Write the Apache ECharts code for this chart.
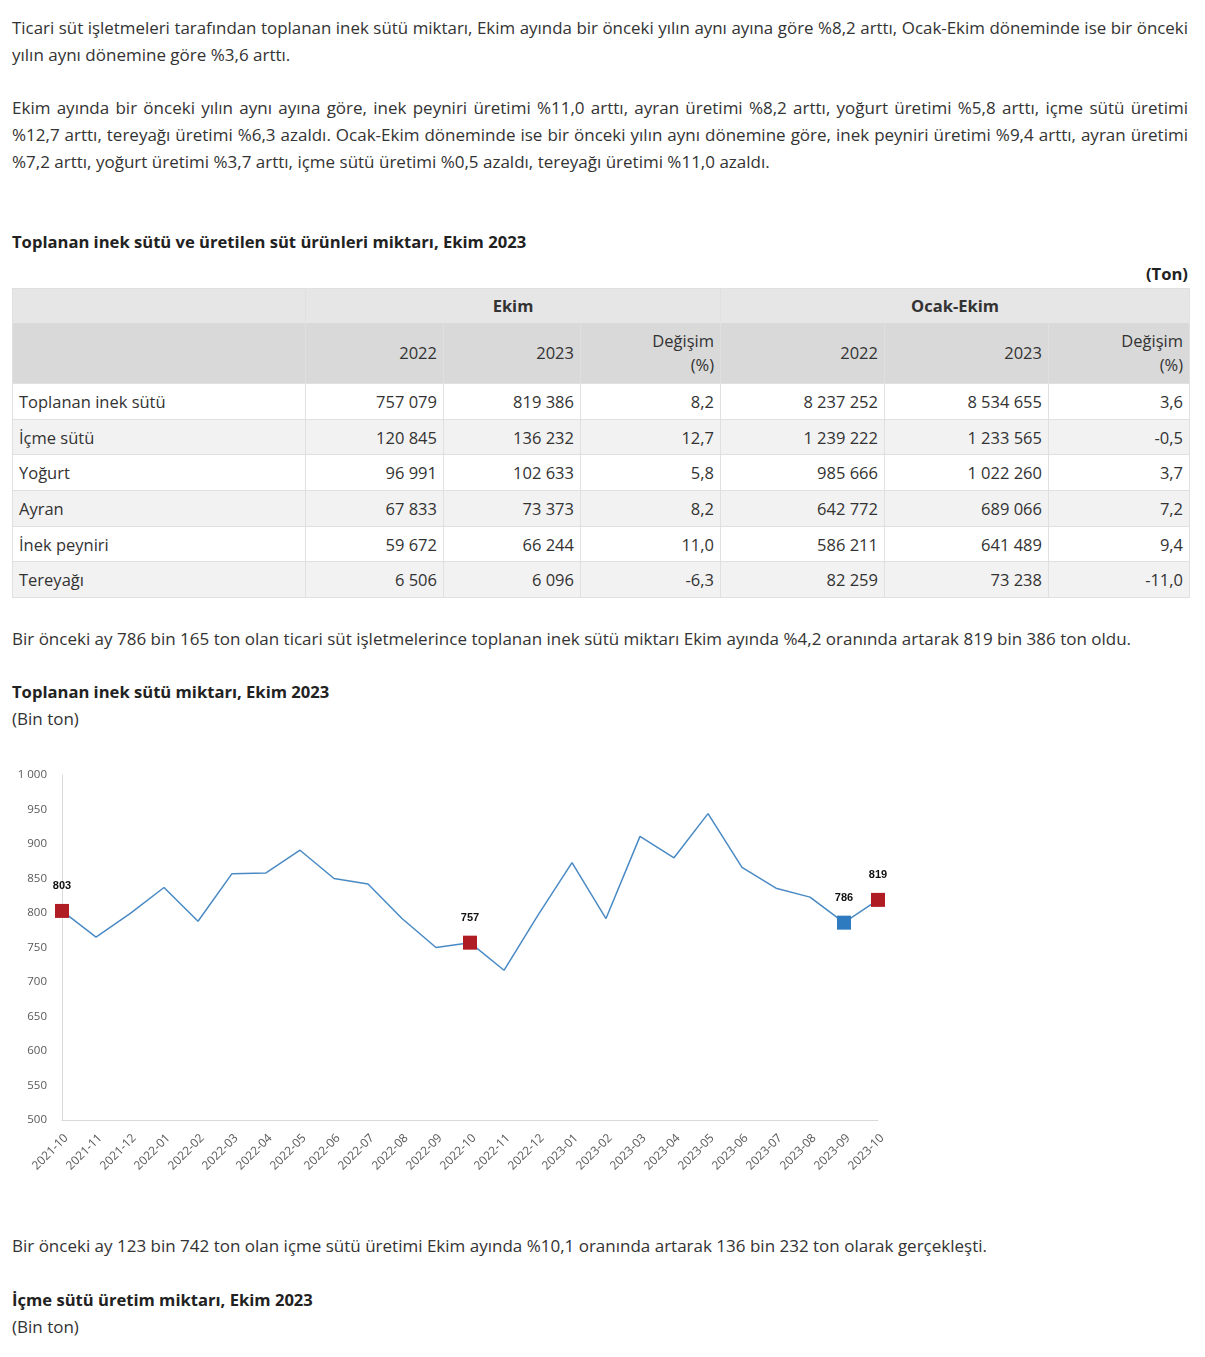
<!DOCTYPE html>
<html lang="tr">
<head>
<meta charset="utf-8">
<script src="https://cdn.jsdelivr.net/npm/echarts@6/dist/echarts.min.js"></script>
<style>
  html, body { margin: 0; padding: 0; background: #fff; }
  body { width: 1205px; height: 1357px; position: relative; font-family: "Open Sans", "Noto Sans", sans-serif; color: #333; overflow: hidden; }
  .abs { position: absolute; left: 12px; width: 1176px; }
  .line { font-size: 17px; height: 27px; line-height: 27px; text-align: justify; text-align-last: justify; white-space: nowrap; overflow: hidden; }
  .line.last { text-align-last: left; }
  .txt { font-size: 17px; line-height: 27px; height: 27px; white-space: nowrap; }
  .bold { font-weight: 700; font-size: 16.6px; color: #222; }
  table { position: absolute; left: 12px; top: 288px; width: 1177px; border-collapse: collapse; font-size: 16.5px; color: #333; table-layout: fixed; }
  td, th { border: 1px solid #e0e0e0; padding: 0 6px; font-weight: 400; white-space: nowrap; }
  th { font-weight: 700; }
  tr.h1 td, tr.h1 th { background: #e6e6e6; height: 33px; border-bottom-color: #e6e6e6; }
  tr.h2 td { background: #d9d9d9; height: 60px; line-height: 24px; border-top-color: #d9d9d9; }
  tr.d td { height: 34.7px; }
  tr.d:nth-child(odd) td { background: #ffffff; }
  tr.d:nth-child(even) td { background: #f2f2f2; }
  .r { text-align: right; }
  .c { text-align: center; }
  #chart { position: absolute; left: 0; top: 740px; width: 900px; height: 450px; }
</style>
</head>
<body>
<div class="abs" style="top:14px;">
  <div class="line">Ticari süt işletmeleri tarafından toplanan inek sütü miktarı, Ekim ayında bir önceki yılın aynı ayına göre %8,2 arttı, Ocak-Ekim döneminde ise bir önceki</div>
  <div class="line last">yılın aynı dönemine göre %3,6 arttı.</div>
</div>
<div class="abs" style="top:94px;">
  <div class="line">Ekim ayında bir önceki yılın aynı ayına göre, inek peyniri üretimi %11,0 arttı, ayran üretimi %8,2 arttı, yoğurt üretimi %5,8 arttı, içme sütü üretimi</div>
  <div class="line">%12,7 arttı, tereyağı üretimi %6,3 azaldı. Ocak-Ekim döneminde ise bir önceki yılın aynı dönemine göre, inek peyniri üretimi %9,4 arttı, ayran üretimi</div>
  <div class="line last">%7,2 arttı, yoğurt üretimi %3,7 arttı, içme sütü üretimi %0,5 azaldı, tereyağı üretimi %11,0 azaldı.</div>
</div>
<div class="abs txt bold" style="top:228px;">Toplanan inek sütü ve üretilen süt ürünleri miktarı, Ekim 2023</div>
<div class="abs txt bold" style="top:260px; text-align:right;">(Ton)</div>

<table id="tbl"></table>

<div class="abs txt" style="top:625px;">Bir önceki ay 786 bin 165 ton olan ticari süt işletmelerince toplanan inek sütü miktarı Ekim ayında %4,2 oranında artarak 819 bin 386 ton oldu.</div>
<div class="abs txt bold" style="top:678px;">Toplanan inek sütü miktarı, Ekim 2023</div>
<div class="abs txt" style="top:705px;">(Bin ton)</div>

<div id="chart"></div>

<div class="abs txt" style="top:1232px;">Bir önceki ay 123 bin 742 ton olan içme sütü üretimi Ekim ayında %10,1 oranında artarak 136 bin 232 ton olarak gerçekleşti.</div>
<div class="abs txt bold" style="top:1286px;">İçme sütü üretim miktarı, Ekim 2023</div>
<div class="abs txt" style="top:1313px;">(Bin ton)</div>

<script>
// fit justified lines that would overflow
document.querySelectorAll('.line').forEach(el => {
  let fs = 17;
  while (el.scrollWidth > el.clientWidth && fs > 14) {
    fs -= 0.1;
    el.style.fontSize = fs + 'px';
  }
});

// ---- Table data ----
const tableProducts = ["Toplanan inek sütü", "İçme sütü", "Yoğurt", "Ayran", "İnek peyniri", "Tereyağı"];
const ekim2022 = ["757 079", "120 845", "96 991", "67 833", "59 672", "6 506"];
const ekim2023 = ["819 386", "136 232", "102 633", "73 373", "66 244", "6 096"];
const ekimChange = ["8,2", "12,7", "5,8", "8,2", "11,0", "-6,3"];
const ocakEkim2022 = ["8 237 252", "1 239 222", "985 666", "642 772", "586 211", "82 259"];
const ocakEkim2023 = ["8 534 655", "1 233 565", "1 022 260", "689 066", "641 489", "73 238"];
const ocakEkimChange = ["3,6", "-0,5", "3,7", "7,2", "9,4", "-11,0"];

// ---- Chart data ----
const months = ["2021-10","2021-11","2021-12","2022-01","2022-02","2022-03","2022-04","2022-05","2022-06","2022-07","2022-08","2022-09","2022-10","2022-11","2022-12","2023-01","2023-02","2023-03","2023-04","2023-05","2023-06","2023-07","2023-08","2023-09","2023-10"];
const milkValues = [803, 765, 799, 837, 788, 857, 858, 891, 850, 842, 792, 750, 757, 717, 797, 873, 792, 911, 880, 944, 866, 836, 823, 786, 819];
const highlightRed = ["2021-10", "2022-10", "2023-10"];
const highlightBlue = ["2023-09"];

// build table
(function () {
  const widths = [293, 138, 137, 140, 164, 164, 141];
  let h = '<colgroup>' + widths.map(w => '<col style="width:' + w + 'px">').join('') + '</colgroup>';
  h += '<tr class="h1"><td></td><th colspan="3" class="c">Ekim</th><th colspan="3" class="c">Ocak-Ekim</th></tr>';
  h += '<tr class="h2"><td></td><td class="r">2022</td><td class="r">2023</td><td class="r">Değişim<br>(%)</td><td class="r">2022</td><td class="r">2023</td><td class="r">Değişim<br>(%)</td></tr>';
  tableProducts.forEach((p, i) => {
    h += '<tr class="d"><td>' + p + '</td><td class="r">' + ekim2022[i] + '</td><td class="r">' + ekim2023[i] +
      '</td><td class="r">' + ekimChange[i] + '</td><td class="r">' + ocakEkim2022[i] + '</td><td class="r">' +
      ocakEkim2023[i] + '</td><td class="r">' + ocakEkimChange[i] + '</td></tr>';
  });
  document.getElementById('tbl').innerHTML = h;
})();

const seriesData = milkValues.map((v, i) => {
  const m = months[i];
  const isRed = highlightRed.includes(m), isBlue = highlightBlue.includes(m);
  if (isRed || isBlue) {
    return {
      value: v,
      symbol: 'rect',
      symbolSize: 14,
      itemStyle: { color: isRed ? '#b01c24' : '#2e7cbf' },
      label: { show: true }
    };
  }
  return { value: v, symbol: 'none' };
});

const chart = echarts.init(document.getElementById('chart'), null, { renderer: 'canvas' });
chart.setOption({
  animation: false,
  grid: { left: 62, right: 22, top: 35, bottom: 70, containLabel: false },
  xAxis: {
    type: 'category',
    data: months,
    boundaryGap: false,
    axisLine: { lineStyle: { color: '#d9d9d9', width: 1 } },
    axisTick: { show: false },
    axisLabel: { rotate: 45, interval: 0, color: '#595959', fontSize: 12, fontFamily: 'Open Sans', margin: 12, verticalAlign: 'top' }
  },
  yAxis: {
    type: 'value',
    min: 500, max: 1000, interval: 50,
    axisLine: { show: true, lineStyle: { color: '#d9d9d9', width: 1 } },
    axisTick: { show: false },
    splitLine: { show: false },
    axisLabel: {
      color: '#595959', fontSize: 11.5, fontFamily: 'Open Sans', margin: 15,
      formatter: v => String(v).replace(/\B(?=(\d{3})+(?!\d))/g, ' ')
    }
  },
  series: [{
    type: 'line',
    data: seriesData,
    symbol: 'none',
    showSymbol: true,
    lineStyle: { color: '#4a8ac4', width: 1.5 },
    itemStyle: { color: '#4a8ac4' },
    label: {
      show: false,
      position: 'top',
      distance: 12,
      color: '#111',
      fontWeight: 'bold',
      fontSize: 11,
      fontFamily: 'Liberation Sans'
    },
    z: 3
  }]
});
</script>
</body>
</html>
